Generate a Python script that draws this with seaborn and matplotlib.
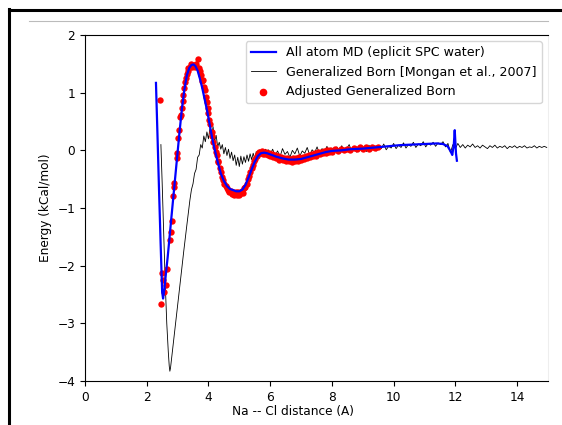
import numpy as np
import pandas as pd
import matplotlib
matplotlib.use("Agg")
import matplotlib.pyplot as plt
import seaborn as sns
from matplotlib.lines import Line2D

# all atom MD (explicit water) PMF
md_x = [2.30, 2.35, 2.40, 2.45, 2.50, 2.53, 2.57, 2.62, 2.68, 2.75, 2.82, 2.90,
        2.98, 3.06, 3.14, 3.22, 3.30, 3.38, 3.45, 3.52, 3.58, 3.65, 3.72, 3.80,
        3.88, 3.96, 4.04, 4.12, 4.20, 4.30, 4.40, 4.50, 4.60, 4.70, 4.80, 4.90,
        5.00, 5.10, 5.20, 5.30, 5.40, 5.50, 5.60, 5.70, 5.80, 5.90, 6.00, 6.20,
        6.40, 6.60, 6.80, 7.00, 7.20, 7.40, 7.60, 7.80, 8.00, 8.30, 8.60, 9.00,
        9.40, 9.80, 10.20, 10.60, 11.00, 11.40, 11.60, 11.75, 11.85, 11.90, 11.95,
        11.98, 12.02, 12.05]
md_y = [1.17, 0.25, -0.70, -1.60, -2.45, -2.57, -2.42, -2.15, -1.85, -1.45, -1.05, -0.60,
        -0.15, 0.30, 0.72, 1.05, 1.30, 1.43, 1.48, 1.49, 1.46, 1.38, 1.25, 1.08,
        0.88, 0.68, 0.45, 0.22, 0.02, -0.20, -0.40, -0.53, -0.62, -0.67, -0.69, -0.71,
        -0.71, -0.68, -0.60, -0.47, -0.33, -0.20, -0.10, -0.05, -0.04, -0.05, -0.07, -0.11,
        -0.14, -0.16, -0.16, -0.15, -0.12, -0.09, -0.06, -0.03, -0.01, 0.00, 0.02, 0.03,
        0.05, 0.07, 0.09, 0.10, 0.11, 0.12, 0.11, 0.07, -0.02, -0.08, 0.10,
        0.35, -0.05, -0.18]

# generalized born (Mongan 2007)
gb_x = [2.46, 2.50, 2.55, 2.60, 2.65, 2.70, 2.73, 2.75, 2.77, 2.80, 2.85, 2.90, 2.95, 3.00,
        3.05, 3.10, 3.15, 3.20, 3.25, 3.30, 3.35, 3.40, 3.45,
        3.50, 3.55, 3.60, 3.65, 3.70, 3.75, 3.80, 3.85, 3.90, 3.95, 4.00, 4.05,
        4.10, 4.15, 4.20, 4.25, 4.30, 4.35, 4.40, 4.45, 4.50, 4.55, 4.60, 4.65,
        4.70, 4.75, 4.80, 4.85, 4.90, 4.95, 5.00, 5.05, 5.10, 5.15, 5.20, 5.25,
        5.30, 5.35, 5.40, 5.45, 5.50, 5.55, 5.60, 5.65, 5.70, 5.75, 5.80, 5.85,
        5.90, 5.95, 6.00,
        6.08, 6.16, 6.24, 6.32, 6.40, 6.48, 6.56, 6.64,
        6.72, 6.80, 6.88, 6.96, 7.04, 7.12, 7.20, 7.28,
        7.36, 7.44, 7.52, 7.60, 7.68, 7.76, 7.84, 7.92,
        8.00, 8.08, 8.16, 8.24, 8.32, 8.40, 8.48, 8.56,
        8.64, 8.72, 8.80, 8.88, 8.96, 9.04, 9.12, 9.20,
        9.28, 9.36, 9.44, 9.52, 9.60, 9.68, 9.76, 9.84,
        9.92, 10.00, 10.08, 10.16, 10.24, 10.32, 10.40, 10.48,
        10.56, 10.64, 10.72, 10.80, 10.88, 10.96, 11.04, 11.12,
        11.20, 11.28, 11.36, 11.44, 11.52, 11.60, 11.68, 11.76,
        11.84, 11.92, 12.00, 12.08, 12.16, 12.24, 12.32, 12.40,
        12.48, 12.56, 12.64, 12.72, 12.80, 12.88, 12.96, 13.04,
        13.12, 13.20, 13.28, 13.36, 13.44, 13.52, 13.60, 13.68,
        13.76, 13.84, 13.92, 14.00, 14.08, 14.16, 14.24, 14.32,
        14.40, 14.48, 14.56, 14.64, 14.72, 14.80, 14.88, 14.96]
gb_y = [0.10, -0.55, -1.45, -2.30, -3.00, -3.50, -3.74, -3.83, -3.78, -3.64, -3.40, -3.16, -2.93, -2.70,
        -2.46, -2.22, -1.98, -1.75, -1.52, -1.30, -1.08, -0.86, -0.68,
        -0.58, -0.40, -0.33, -0.12, -0.08, 0.10, 0.04, 0.25, 0.15, 0.32, 0.20, 0.38,
        0.24, 0.41, 0.16, 0.26, 0.06, 0.14, 0.02, 0.10, -0.06, 0.05, -0.09, 0.02,
        -0.14, -0.03, -0.18, -0.08, -0.26, -0.12, -0.28, -0.10, -0.24, -0.11, -0.21, -0.08,
        -0.19, -0.06, -0.16, -0.05, -0.15, -0.02, -0.12, 0.01, -0.10, 0.00, -0.09, 0.02,
        -0.08, 0.01, -0.07,
        0.02, -0.09, -0.01, -0.11, 0.03, -0.07, -0.02, -0.12,
        0.00, -0.06, 0.04, -0.10, -0.01, -0.05, 0.05, -0.08,
        0.01, -0.04, 0.06, -0.06, 0.03, -0.02, 0.07, -0.05,
        0.04, -0.03, 0.06, -0.01, 0.08, -0.04, 0.03, 0.10,
        -0.02, 0.05, -0.03, 0.07, 0.01, 0.06, -0.02, 0.09,
        0.02, 0.07, -0.01, 0.08, 0.03, 0.11, 0.01, 0.07,
        0.04, 0.12, 0.03, 0.09, 0.05, 0.13, 0.04, 0.10,
        0.07, 0.14, 0.05, 0.11, 0.08, 0.15, 0.06, 0.12,
        0.09, 0.14, 0.07, 0.13, 0.10, 0.15, 0.06, 0.12,
        -0.04, 0.10, 0.03, 0.12, 0.05, 0.10, 0.04, 0.09,
        0.06, 0.11, 0.05, 0.08, 0.04, 0.09, 0.06, 0.03,
        0.08, 0.05, 0.09, 0.04, 0.07, 0.05, 0.08, 0.03,
        0.07, 0.05, 0.08, 0.04, 0.07, 0.05, 0.08, 0.04,
        0.06, 0.05, 0.08, 0.04, 0.07, 0.05, 0.07, 0.05]

# adjusted generalized born
adj_x = [2.43, 2.46, 2.50, 2.54, 2.57, 2.61, 2.67, 2.75, 2.79, 2.81, 2.86, 2.88,
         2.89, 2.97, 2.99, 3.02, 3.05, 3.08, 3.10, 3.13, 3.16, 3.19, 3.22, 3.24,
         3.27, 3.30, 3.33, 3.35, 3.40, 3.44, 3.46, 3.50, 3.55, 3.60, 3.67, 3.70,
         3.73, 3.77, 3.80, 3.83, 3.86, 3.89, 3.92, 3.94, 3.97, 4.00, 4.03, 4.06,
         4.10, 4.13, 4.16, 4.20, 4.23, 4.27, 4.30, 4.32, 4.36, 4.40, 4.44, 4.48,
         4.52, 4.56, 4.60, 4.64, 4.68, 4.72, 4.76, 4.80, 4.84, 4.88, 4.92, 4.96,
         5.00, 5.04, 5.08, 5.12, 5.16, 5.20, 5.24, 5.28, 5.32, 5.36, 5.40, 5.44,
         5.48, 5.52, 5.56, 5.60, 5.64, 5.68, 5.72, 5.76, 5.80, 5.84, 5.88, 5.92,
         5.96, 6.00, 6.05, 6.10, 6.15, 6.20, 6.25, 6.30, 6.35, 6.40, 6.45, 6.50,
         6.55, 6.60, 6.65, 6.70, 6.75, 6.80, 6.85, 6.90, 6.95, 7.00, 7.05, 7.10,
         7.15, 7.20, 7.25, 7.30, 7.35, 7.40, 7.45, 7.50, 7.55, 7.60, 7.65, 7.70,
         7.75, 7.80, 7.85, 7.90, 7.95, 8.00, 8.10, 8.20, 8.30, 8.40, 8.50, 8.60,
         8.70, 8.80, 8.90, 9.00, 9.10, 9.20, 9.30, 9.40, 9.50]
adj_y = [0.87, -2.66, -2.12, -2.25, -2.45, -2.34, -2.05, -1.55, -1.41, -1.22, -0.79, -0.64,
         -0.56, -0.14, -0.04, 0.21, 0.35, 0.58, 0.62, 0.73, 0.85, 0.96, 1.08, 1.19,
         1.25, 1.32, 1.38, 1.42, 1.45, 1.50, 1.45, 1.48, 1.44, 1.50, 1.58, 1.42,
         1.37, 1.30, 1.20, 1.22, 1.10, 1.05, 0.92, 0.84, 0.74, 0.64, 0.52, 0.45,
         0.32, 0.25, 0.15, 0.05, -0.02, -0.08, -0.18, -0.20, -0.30, -0.38, -0.46, -0.52,
         -0.58, -0.62, -0.66, -0.68, -0.72, -0.70, -0.76, -0.72, -0.77, -0.73, -0.78, -0.72,
         -0.77, -0.74, -0.70, -0.74, -0.66, -0.64, -0.58, -0.50, -0.44, -0.38, -0.30, -0.26,
         -0.19, -0.15, -0.10, -0.06, -0.03, -0.05, -0.01, -0.06, -0.02, -0.07, -0.03, -0.08,
         -0.04, -0.10, -0.06, -0.12, -0.08, -0.14, -0.10, -0.16, -0.12, -0.17, -0.13, -0.18,
         -0.14, -0.19, -0.15, -0.20, -0.14, -0.19, -0.13, -0.18, -0.12, -0.17, -0.11, -0.15,
         -0.09, -0.14, -0.08, -0.12, -0.06, -0.10, -0.05, -0.09, -0.03, -0.07, -0.02, -0.05,
         -0.01, -0.04, 0.00, -0.03, 0.01, -0.02, 0.02, -0.01, 0.03, 0.00, 0.03, 0.01,
         0.04, 0.02, 0.05, 0.02, 0.05, 0.03, 0.06, 0.04, 0.06]

plt.rcParams['font.size'] = 8.7

fig = plt.figure(figsize=(5.62, 4.25), dpi=100)
ax = fig.add_axes([0.1512, 0.1035, 0.8238, 0.8141])

sns.lineplot(x=md_x, y=md_y, ax=ax, color='b', linewidth=1.6, sort=False,
             estimator=None, label='All atom MD (eplicit SPC water)', zorder=3)
sns.lineplot(x=gb_x, y=gb_y, ax=ax, color='k', linewidth=0.6, sort=False,
             estimator=None, label='Generalized Born [Mongan et al., 2007]', zorder=1)
sns.scatterplot(x=adj_x, y=adj_y, ax=ax, color='r', s=21, linewidth=0,
                label='Adjusted Generalized Born', zorder=2)

ax.set_xlim(0, 15)
ax.set_ylim(-4, 2)
ax.set_xticks([0, 2, 4, 6, 8, 10, 12, 14])
ax.set_yticks([-4, -3, -2, -1, 0, 1, 2])
ax.set_xlabel('Na -- Cl distance (A)')
ax.xaxis.set_label_coords(0.449, -0.07)
ax.set_ylabel('Energy (kCal/mol)')
ax.spines['right'].set_color('#eeeeee')
ax.legend(loc='upper right', fontsize=9.1, markerscale=1.2)

# screenshot frame bits
fig.add_artist(Line2D([8.5/562, 8.5/562], [0, 1 - 9/425], color='k', linewidth=2.2))
fig.add_artist(Line2D([8.5/562, 1], [1 - 10/425, 1 - 10/425], color='k', linewidth=2.2))
fig.add_artist(Line2D([29/562, 548/562], [1 - 20.5/425, 1 - 20.5/425], color='#bbbbbb', linewidth=0.8))

fig.savefig('out.png', dpi=100)
